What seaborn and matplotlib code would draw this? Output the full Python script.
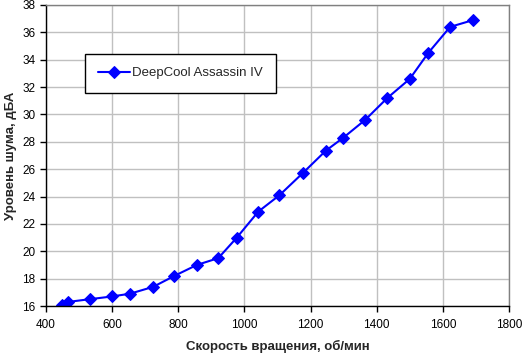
import pandas as pd
import seaborn as sns
import matplotlib.pyplot as plt

# data
rpm = [448, 467, 533, 600, 654, 724, 788, 856, 921, 977, 1042, 1106,
       1178, 1246, 1299, 1365, 1432, 1500, 1556, 1622, 1692]
noise = [16.1, 16.3, 16.5, 16.7, 16.9, 17.4, 18.2, 19.0, 19.5, 21.0, 22.9, 24.1,
         25.75, 27.35, 28.3, 29.6, 31.2, 32.6, 34.5, 36.4, 36.9]
series_name = "DeepCool Assassin IV"

df = pd.DataFrame({"rpm": rpm, "noise": noise, "cooler": series_name})

sns.set_style("white")
plt.rcParams['font.family'] = ['Liberation Sans', 'DejaVu Sans']

fig = plt.figure(figsize=(5.22, 3.56), dpi=100)
ax = fig.add_axes([0.0881, 0.1404, 0.8870, 0.8456])

sns.lineplot(data=df, x="rpm", y="noise", hue="cooler", palette=["#0000ff"],
             marker="D", markersize=6.5, markeredgecolor="#0000ff",
             linewidth=1.5, ax=ax)

ax.set_xlim(400, 1800)
ax.set_ylim(16, 38)
ax.set_xticks(range(400, 1801, 200))
ax.set_yticks(range(16, 39, 2))
ax.grid(True, color="#c0c0c0", linewidth=1)
ax.tick_params(direction="out", length=4, width=1, labelsize=8.5, colors="black",
               left=True, bottom=True)
ax.tick_params(axis="x", pad=5)

for s in ["left", "bottom"]:
    ax.spines[s].set_color("black")
    ax.spines[s].set_linewidth(1)
for s in ["top", "right"]:
    ax.spines[s].set_color("#808080")
    ax.spines[s].set_linewidth(1)

ax.set_xlabel("Скорость вращения, об/мин", fontsize=9.5, fontweight="bold", labelpad=7)
ax.set_ylabel("Уровень шума, дБА", fontsize=9.5, fontweight="bold", labelpad=4)

leg = ax.legend(loc="upper left", bbox_to_anchor=(0.084, 0.837), fontsize=9.5,
                frameon=True, fancybox=False, edgecolor="black", framealpha=1,
                borderpad=1.0, handlelength=2.4, handletextpad=0.15, borderaxespad=0)
leg.get_frame().set_linewidth(1)
leg.set_title(None)

fig.savefig("out.png", dpi=100)
